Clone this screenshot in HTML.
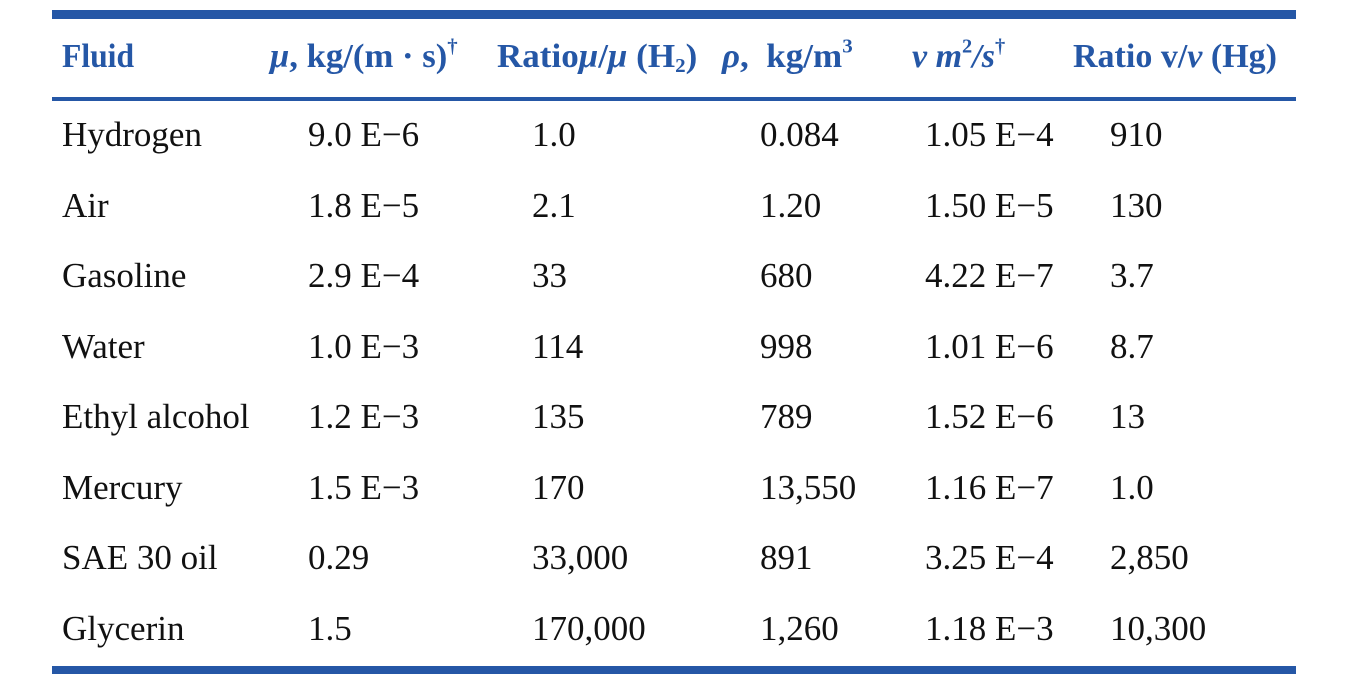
<!DOCTYPE html>
<html><head><meta charset="utf-8"><style>
html,body{margin:0;padding:0;background:#fff;width:1348px;height:688px;overflow:hidden}
.bar{position:absolute;left:52px;width:1244px;background:#2557a6}
.t{position:absolute;font-family:"Liberation Serif",serif;white-space:nowrap;line-height:1}
.h{font-weight:bold;color:#2557a6;font-size:34px;top:40px;transform-origin:left center}
.c{font-size:35px;color:#111}
sup{font-size:0.6em;vertical-align:0.7em;line-height:0}
sub{font-size:0.6em;vertical-align:-0.25em;line-height:0}
</style></head><body>
<div class="bar" style="top:10px;height:9px"></div>
<div class="bar" style="top:97px;height:4px"></div>
<div class="bar" style="top:666px;height:8px"></div>
<div class="t h" style="left:62px;transform:scaleX(0.93)">Fluid</div>
<div class="t h" style="left:270px;transform:scaleX(1.02)"><i>μ</i>, kg/(m · s)<sup>†</sup></div>
<div class="t h" style="left:497px;transform:scaleX(1.03)">Ratio<i>μ</i>/<i>μ</i> (H<sub>2</sub>)</div>
<div class="t h" style="left:722px;transform:scaleX(1.03)"><i>ρ</i>,&nbsp; kg/m<sup>3</sup></div>
<div class="t h" style="left:912px"><i>v m</i><sup>2</sup><i>/s</i><sup>†</sup></div>
<div class="t h" style="left:1073px">Ratio v/<i>v</i> (Hg)</div>
<div id="rows"></div>
<script>
const fluids=["Hydrogen","Air","Gasoline","Water","Ethyl alcohol","Mercury","SAE 30 oil","Glycerin"];
const mu=["9.0 E−6","1.8 E−5","2.9 E−4","1.0 E−3","1.2 E−3","1.5 E−3","0.29","1.5"];
const muRatio=["1.0","2.1","33","114","135","170","33,000","170,000"];
const rho=["0.084","1.20","680","998","789","13,550","891","1,260"];
const nu=["1.05 E−4","1.50 E−5","4.22 E−7","1.01 E−6","1.52 E−6","1.16 E−7","3.25 E−4","1.18 E−3"];
const nuRatio=["910","130","3.7","8.7","13","1.0","2,850","10,300"];
const cols=[[fluids,62,"fluid"],[mu,308,"viscosity"],[muRatio,532,"viscosity-ratio"],[rho,760,"density"],[nu,925,"kinematic-viscosity"],[nuRatio,1110,"kinematic-ratio"]];
const root=document.getElementById('rows');
fluids.forEach((f,i)=>{
  cols.forEach(([arr,x,n])=>{
    const d=document.createElement('div');
    d.className='t c';
    d.style.left=x+'px';
    d.style.top=(117+i*70.5)+'px';
    d.textContent=arr[i];
    
    
    root.appendChild(d);
  });
});
</script>
</body></html>
